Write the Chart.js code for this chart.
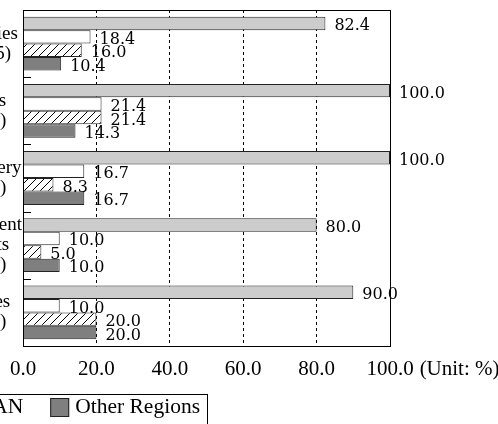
<!DOCTYPE html>
<html>

<head>
    <script src="https://cdn.jsdelivr.net/npm/chart.js@4.4.2/dist/chart.umd.min.js"></script>
    <style>
        html, body { margin: 0; padding: 0; overflow: hidden; background: #fff; }
        #wrap { position: absolute; left: -97px; top: 0; width: 595px; height: 424px; }
    </style>
</head>

<body>
    <div id="wrap">
        <canvas id="chart"></canvas>
    </div>
</body>
<script>
    // industries (first line) and number of respondents
    const industries = [
        ['Industries', '(n=125)'],
        ['Metals', '(n=14)'],
        ['Machinery', '(n=12)'],
        ['Equipment', '& Parts', '(n=20)'],
        ['Textiles', '(n=10)']
    ];
    const regions = ['Japan', 'China', 'ASEAN', 'Other Regions'];
    const japan = [82.4, 100.0, 100.0, 80.0, 90.0];
    const china = [18.4, 21.4, 16.7, 10.0, 10.0];
    const asean = [16.0, 21.4, 8.3, 5.0, 20.0];
    const otherRegions = [10.4, 14.3, 16.7, 10.0, 20.0];

    const serif = "'Liberation Serif'";

    function hatch() {
        const c = document.createElement('canvas');
        c.width = 8;
        c.height = 8;
        const g = c.getContext('2d');
        g.fillStyle = '#fff';
        g.fillRect(0, 0, 8, 8);
        g.strokeStyle = '#000';
        g.lineWidth = 1;
        g.beginPath();
        g.moveTo(0, 8); g.lineTo(8, 0);
        g.moveTo(-1, 1); g.lineTo(1, -1);
        g.moveTo(7, 9); g.lineTo(9, 7);
        g.stroke();
        return g.createPattern(c, 'repeat');
    }

    // value printed to the right of every bar
    const valueLabels = {
        id: 'valueLabels',
        afterDatasetsDraw(chart) {
            const ctx = chart.ctx;
            ctx.save();
            ctx.font = "16px 'DejaVu Serif'";
            ctx.fillStyle = '#000';
            ctx.textAlign = 'left';
            ctx.textBaseline = 'alphabetic';
            chart.data.datasets.forEach((ds, i) => {
                chart.getDatasetMeta(i).data.forEach((bar, j) => {
                    ctx.fillText(ds.data[j].toFixed(1), bar.x + 9, bar.y + 7);
                });
            });
            ctx.restore();
        }
    };

    // plot frame, short ticks between industries, unit note
    const frame = {
        id: 'frame',
        afterDraw(chart) {
            const { ctx, chartArea: a, scales: { x, y } } = chart;
            ctx.save();
            ctx.strokeStyle = '#000';
            ctx.lineWidth = 1;
            ctx.strokeRect(Math.round(a.left) + 0.5, Math.round(a.top) + 0.5,
                Math.round(a.right - a.left), Math.round(a.bottom - a.top));
            ctx.beginPath();
            for (let i = 1; i < industries.length; i++) {
                const yb = Math.round((y.getPixelForValue(i - 1) + y.getPixelForValue(i)) / 2) + 0.5;
                ctx.moveTo(a.left, yb);
                ctx.lineTo(a.left + 8, yb);
            }
            ctx.stroke();

            const items = x.getLabelItems();
            const last = items[items.length - 1];
            ctx.font = '21px ' + serif;
            ctx.fillStyle = '#000';
            ctx.textAlign = 'left';
            ctx.textBaseline = last.options.textBaseline;
            const w = ctx.measureText(last.label).width;
            ctx.fillText('(Unit: %)', last.options.translation[0] + w / 2 + 6,
                last.options.translation[1] + last.textOffset);
            ctx.restore();
        }
    };

    // one-row legend in a box
    const boxedLegend = {
        id: 'boxedLegend',
        afterDraw(chart) {
            const ctx = chart.ctx;
            const box = 19, gap = 6, spacing = 27;
            const right = 297, top = 394;
            ctx.save();
            ctx.font = '21.5px ' + serif;
            ctx.textBaseline = 'alphabetic';
            const ds = chart.data.datasets;
            let xPos = right;
            const pos = [];
            for (let i = ds.length - 1; i >= 0; i--) {
                const tw = ctx.measureText(ds[i].label).width;
                xPos -= tw + gap + box;
                pos[i] = xPos;
                xPos -= spacing;
            }
            ds.forEach((d, i) => {
                ctx.fillStyle = d.backgroundColor;
                ctx.fillRect(pos[i], top + 4, box, box);
                ctx.strokeStyle = '#222';
                ctx.lineWidth = 1;
                ctx.strokeRect(pos[i] + 0.5, top + 4.5, box - 1, box - 1);
                ctx.fillStyle = '#000';
                ctx.fillText(d.label, pos[i] + box + gap, top + 19);
            });
            ctx.strokeStyle = '#000';
            ctx.strokeRect(pos[0] - 9.5, top + 0.5, right + 8 - pos[0] + 9, 40);
            ctx.restore();
        }
    };

    const canvas = document.getElementById('chart');

    const data = {
        labels: industries,
        datasets: [
            { label: regions[0], data: japan, backgroundColor: '#cccccc' },
            { label: regions[1], data: china, backgroundColor: '#ffffff' },
            { label: regions[2], data: asean, backgroundColor: hatch() },
            { label: regions[3], data: otherRegions, backgroundColor: '#7f7f7f' }
        ]
    };
    data.datasets.forEach(d => {
        d.borderColor = '#222';
        d.borderWidth = 1;
        d.barPercentage = 1.0;
        d.categoryPercentage = 0.8;
    });

    const config = {
        type: 'bar',
        data: data,
        plugins: [valueLabels, frame, boxedLegend],
        options: {
            indexAxis: 'y',
            animation: false,
            responsive: true,
            maintainAspectRatio: false,
            layout: {
                padding: { left: 0, right: 108, top: 10, bottom: 42 }
            },
            plugins: {
                legend: { display: false },
                tooltip: { enabled: false }
            },
            scales: {
                x: {
                    min: 0,
                    max: 100,
                    afterFit: (scale) => { scale.height = 36; },
                    ticks: {
                        stepSize: 20,
                        padding: 11,
                        color: '#000',
                        font: { family: serif, size: 21 },
                        callback: (v) => v.toFixed(1)
                    },
                    grid: { color: '#000', lineWidth: 1, drawTicks: false },
                    border: { display: false, dash: [3, 3] }
                },
                y: {
                    afterFit: (scale) => {
                        scale.width = 120;
                        scale.paddingTop = 0;
                        scale.paddingBottom = 0;
                    },
                    ticks: {
                        padding: 1,
                        crossAlign: 'center',
                        color: '#000',
                        font: { family: serif, size: 19, lineHeight: 1.05 }
                    },
                    grid: { display: false, drawTicks: false },
                    border: { display: false }
                }
            }
        }
    };

    Promise.all([
        document.fonts.load("21px 'Liberation Serif'"),
        document.fonts.load("16px 'DejaVu Serif'")
    ]).finally(() => new Chart(canvas, config));
</script>

</html>
